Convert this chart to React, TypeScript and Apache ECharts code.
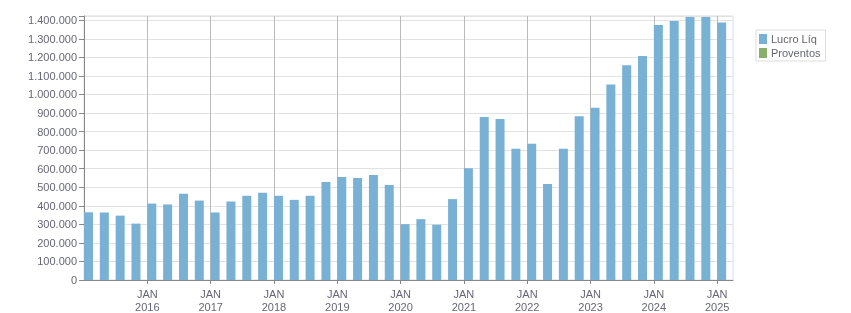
import React, { useEffect, useRef } from "react";
import * as echarts from "echarts";

const quarters = [
  "1T15", "2T15", "3T15", "4T15",
  "1T16", "2T16", "3T16", "4T16",
  "1T17", "2T17", "3T17", "4T17",
  "1T18", "2T18", "3T18", "4T18",
  "1T19", "2T19", "3T19", "4T19",
  "1T20", "2T20", "3T20", "4T20",
  "1T21", "2T21", "3T21", "4T21",
  "1T22", "2T22", "3T22", "4T22",
  "1T23", "2T23", "3T23", "4T23",
  "1T24", "2T24", "3T24", "4T24",
  "1T25",
];

const lucroLiq = [
  365000, 364000, 347000, 304000,
  412000, 407000, 465000, 428000,
  364000, 423000, 454000, 470000,
  454000, 432000, 454000, 528000,
  555000, 550000, 566000, 512000,
  301000, 328000, 298000, 436000,
  603000, 879000, 868000, 707000,
  735000, 518000, 707000, 883000,
  928000, 1054000, 1157000, 1207000,
  1375000, 1396000, 1417000, 1417000,
  1388000,
];

const proventos: number[] = [];

const yearLabels = ["2016", "2017", "2018", "2019", "2020", "2021", "2022", "2023", "2024", "2025"];

const TEXT = "#666677";
const FONT = "'Liberation Sans', Arial, sans-serif";

function fmt(v: number): string {
  return String(v).replace(/\B(?=(\d{3})+(?!\d))/g, ".");
}

// JAN positions on the quarter axis (start of each year's first quarter)
const janTicks = yearLabels.map((y) => quarters.indexOf("1T" + y.slice(2)));

export default function App() {
  const ref = useRef<HTMLDivElement>(null);
  useEffect(() => {
    if (!ref.current) return;
    const chart = echarts.init(ref.current, null, { renderer: "svg" });
    chart.setOption({
      animation: false,
      textStyle: { fontFamily: FONT },
      grid: {
        left: 84,
        top: 16,
        right: 118,
        bottom: 33,
        show: true,
        borderColor: "#dddddd",
        borderWidth: 1,
      },
      legend: {
        orient: "vertical",
        left: 756,
        top: 30,
        padding: [3, 5, 2, 3],
        itemGap: 2,
        itemWidth: 8,
        itemHeight: 10,
        icon: "rect",
        borderColor: "#dddddd",
        borderWidth: 1,
        textStyle: { fontSize: 11, color: TEXT, fontFamily: FONT, lineHeight: 12, padding: [0, 0, 0, -1] },
        data: ["Lucro Líq", "Proventos"],
      },
      xAxis: [
        {
          type: "category",
          data: quarters,
          boundaryGap: true,
          show: false,
        },
        {
          type: "value",
          position: "bottom",
          min: 0,
          max: quarters.length,
          interval: 4,
          axisLine: { show: true, lineStyle: { color: "#888888" } },
          axisTick: { show: true, length: 4, customValues: janTicks, lineStyle: { color: "#888888" } },
          splitLine: { show: true, lineStyle: { color: "#bbbbbb", width: 1 } },
          axisLabel: {
            fontSize: 11,
            lineHeight: 13,
            color: TEXT,
            fontFamily: FONT,
            margin: 7,
            customValues: janTicks,
            formatter: (v: number) => {
              const i = janTicks.indexOf(v);
              return i >= 0 ? "JAN\n" + yearLabels[i] : "";
            },
          },
        },
      ],
      yAxis: {
        type: "value",
        min: 0,
        max: 1423000,
        interval: 100000,
        axisLine: { show: true, lineStyle: { color: "#888888" } },
        axisTick: { show: true, length: 5, lineStyle: { color: "#888888" } },
        splitLine: { show: true, lineStyle: { color: "#e2e2e2", width: 1 } },
        axisLabel: {
          fontSize: 11,
          color: TEXT,
          fontFamily: FONT,
          margin: 7,
          formatter: (v: number) => (v % 100000 === 0 ? fmt(v) : ""),
        },
      },
      series: [
        {
          name: "Lucro Líq",
          type: "bar",
          xAxisIndex: 0,
          yAxisIndex: 0,
          data: lucroLiq,
          barWidth: 9,
          barGap: "-24%",
          itemStyle: { color: "#78b1d3" },
        },
        {
          name: "Proventos",
          type: "bar",
          xAxisIndex: 0,
          yAxisIndex: 0,
          data: proventos,
          barWidth: 9,
          barGap: "-24%",
          itemStyle: { color: "#8aae6c" },
        },
      ],
    });
    return () => chart.dispose();
  }, []);
  return (
    <div
      ref={ref}
      style={{ position: "fixed", left: 0, top: 0, width: 851, height: 313 }}
    />
  );
}
